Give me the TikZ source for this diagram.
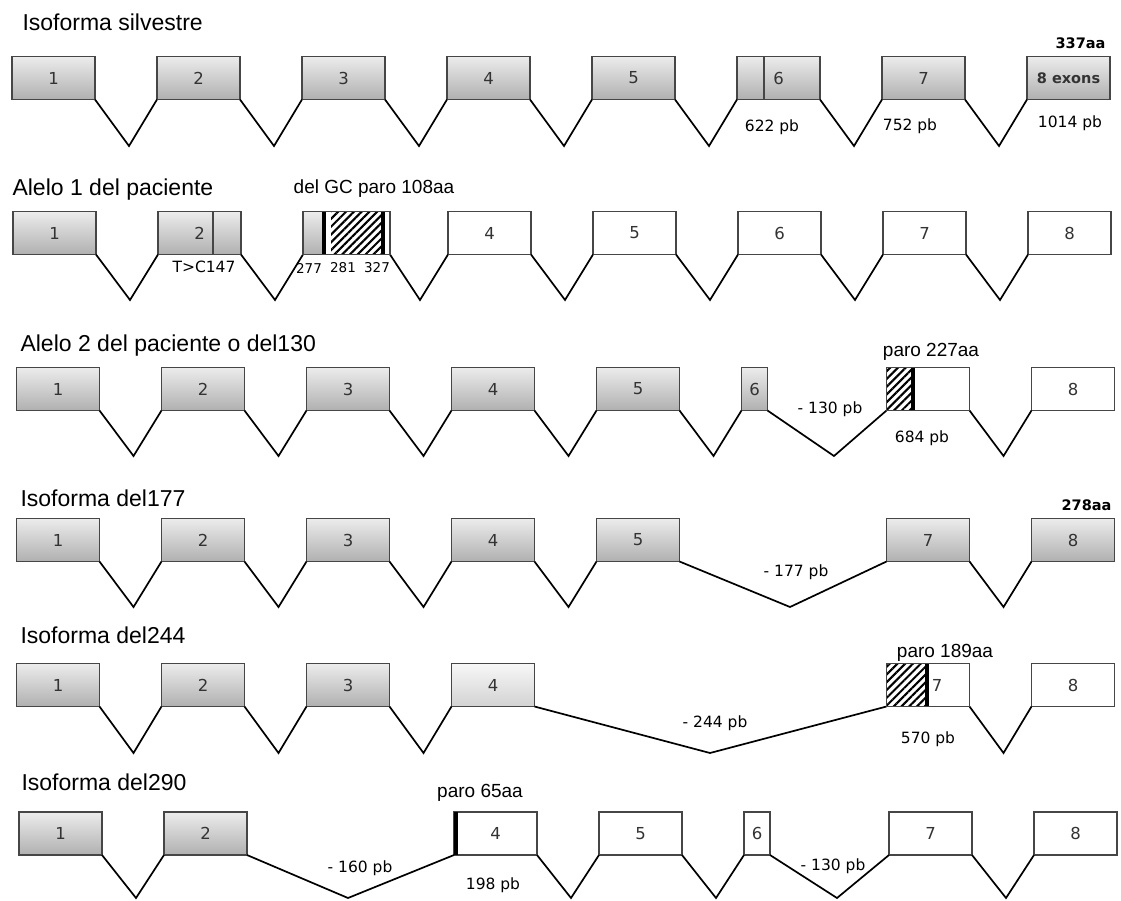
\documentclass[tikz,border=0pt]{standalone}
\usepackage{fontspec}
\setmainfont{Liberation Sans}
\newfontfamily\numfont{DejaVu Sans}
\usetikzlibrary{patterns.meta}
\definecolor{boxline}{RGB}{70,70,70}
\newcommand{\fsz}[1]{\fontsize{#1}{#1}\selectfont}

\begin{document}
\begin{tikzpicture}[x=1pt,y=-1pt,
  exbox/.style={draw=boxline,line width=1.4pt,minimum width=83pt,minimum height=43pt,
    inner sep=0pt,outer sep=0pt,font=\numfont\fsz{16.5},text=black!80},
  exon/.style={exbox,top color=gray!15,bottom color=gray!62},
  pale/.style={exbox,top color=gray!6,bottom color=gray!35},
  blank/.style={exbox,fill=white},
  narrow/.style={minimum width=26pt},
  intron/.style={line width=1.7pt},
  title/.style={anchor=west,font=\fsz{23}},
  note/.style={font=\fsz{19}},
  size/.style={font=\numfont\fsz{15.5}},
  cut/.style={font=\numfont\fsz{13.5}},
  aa/.style={anchor=east,font=\numfont\bfseries\fsz{14.5}},
  hatch/.style={pattern={Lines[angle=45,distance=5.5pt,line width=2.1pt]}},
  stopbar/.style={line width=3.5pt}]
  \useasboundingbox (0,0) rectangle (1121,900);
  % ---- wild type ----
  \node[title] (t1) at (19,22) {Isoforma silvestre};
  \foreach \i in {1,...,7}
    \node[exon] (r1e\i) at ({53.5+145*(\i-1)},78) {\i};
  \node[exon,font=\numfont\bfseries\fsz{14.5}] (r1e8) at (1068.5,78) {8 exons};
  \foreach \i in {1,...,7}
    \coordinate (r1v\i) at ({129+145*(\i-1)},146);
  \foreach \i [evaluate=\i as \j using int(\i+1)] in {1,...,7}
    \draw[intron] (r1e\i.south east) -- (r1v\i) -- (r1e\j.south west);
  \draw[boxline,line width=1.4pt] ([xshift=27pt]r1e6.north west) -- ([xshift=27pt]r1e6.south west);
  \node[aa] (wtaa) at (1109,43) {337aa};
  \node[size] (wt6) at (772,127) {622 pb};
  \node[size] (wt7) at (910,126) {752 pb};
  \node[size] (wt8) at (1070,123) {1014 pb};
  % ---- allele 1 ----
  \node[title] (t2) at (9,190) {Alelo 1 del paciente};
  \foreach \i in {1,2}
    \node[exon] (r2e\i) at ({54.5+145*(\i-1)},233) {\i};
  \node[blank,minimum width=87pt] (r2e3) at (346.5,233) {};
  \foreach \i in {4,...,8}
    \node[blank] (r2e\i) at ({54.5+145*(\i-1)},233) {\i};
  \foreach \i in {1,...,7}
    \coordinate (r2v\i) at ({130+145*(\i-1)},300);
  \foreach \i [evaluate=\i as \j using int(\i+1)] in {1,...,7}
    \draw[intron] (r2e\i.south east) -- (r2v\i) -- (r2e\j.south west);
  \draw[boxline,line width=1.4pt] ([xshift=55pt]r2e2.north west) -- ([xshift=55pt]r2e2.south west);
  \shade[top color=gray!15,bottom color=gray!62] (r2e3.north west) rectangle ([xshift=19pt]r2e3.south west);
  \fill[hatch] ([xshift=28pt]r2e3.north west) rectangle ([xshift=78pt]r2e3.south west);
  \draw[stopbar] ([xshift=21pt]r2e3.north west) -- ([xshift=21pt]r2e3.south west);
  \draw[stopbar] ([xshift=80pt]r2e3.north west) -- ([xshift=80pt]r2e3.south west);
  \draw[boxline,line width=1.4pt] (r2e3.north west) rectangle (r2e3.south east);
  \node[note] (gc) at (374,189) {del GC paro 108aa};
  \node[size] (snp) at (204,267) {T>C147};
  \node[cut] (p277) at (309,268) {277};
  \node[cut] (p281) at (343,268) {281};
  \node[cut] (p327) at (377,268) {327};
  % ---- allele 2 / del130 ----
  \node[title] (t3) at (17,346) {Alelo 2 del paciente o del130};
  \foreach \i in {1,...,5}
    \node[exon] (r3e\i) at ({58+145*(\i-1)},389) {\i};
  \node[exon,narrow] (r3e6) at (754.5,389) {6};
  \node[blank] (r3e7) at (928,389) {};
  \node[blank] (r3e8) at (1073,389) {8};
  \foreach \i in {1,...,5}
    \coordinate (r3v\i) at ({133.5+145*(\i-1)},456);
  \coordinate (r3v6) at (834,456);
  \coordinate (r3v7) at (1003.5,456);
  \foreach \i [evaluate=\i as \j using int(\i+1)] in {1,...,7}
    \draw[intron] (r3e\i.south east) -- (r3v\i) -- (r3e\j.south west);
  \fill[hatch] (r3e7.north west) rectangle ([xshift=26pt]r3e7.south west);
  \draw[stopbar] ([xshift=26.5pt]r3e7.north west) -- ([xshift=26.5pt]r3e7.south west);
  \draw[boxline,line width=1.4pt] (r3e7.north west) rectangle (r3e7.south east);
  \node[note] (stop3) at (931,352) {paro 227aa};
  \node[size] (d130) at (830,409) {- 130 pb};
  \node[size] (len3) at (922,438) {684 pb};
  % ---- del177 ----
  \node[title] (t4) at (17,498) {Isoforma del177};
  \foreach \i in {1,...,5}
    \node[exon] (r4e\i) at ({58+145*(\i-1)},540) {\i};
  \node[exon] (r4e7) at (928,540) {7};
  \node[exon] (r4e8) at (1073,540) {8};
  \foreach \i in {1,...,4}
    \coordinate (r4v\i) at ({133.5+145*(\i-1)},607);
  \coordinate (r4v5) at (790,607);
  \coordinate (r4v7) at (1003.5,607);
  \foreach \i [evaluate=\i as \j using int(\i+1)] in {1,...,4}
    \draw[intron] (r4e\i.south east) -- (r4v\i) -- (r4e\j.south west);
  \draw[intron] (r4e5.south east) -- (r4v5) -- (r4e7.south west);
  \draw[intron] (r4e7.south east) -- (r4v7) -- (r4e8.south west);
  \node[size] (d177) at (796,572) {- 177 pb};
  \node[aa] (aa177) at (1115,505) {278aa};
  % ---- del244 ----
  \node[title] (t5) at (17,635) {Isoforma del244};
  \foreach \i in {1,...,3}
    \node[exon] (r5e\i) at ({58+145*(\i-1)},685) {\i};
  \node[pale] (r5e4) at (493,685) {4};
  \node[blank] (r5e7) at (928,685) {};
  \node[blank] (r5e8) at (1073,685) {8};
  \foreach \i in {1,...,3}
    \coordinate (r5v\i) at ({133.5+145*(\i-1)},753);
  \coordinate (r5v4) at (710,753);
  \coordinate (r5v7) at (1003.5,753);
  \foreach \i [evaluate=\i as \j using int(\i+1)] in {1,...,3}
    \draw[intron] (r5e\i.south east) -- (r5v\i) -- (r5e\j.south west);
  \draw[intron] (r5e4.south east) -- (r5v4) -- (r5e7.south west);
  \draw[intron] (r5e7.south east) -- (r5v7) -- (r5e8.south west);
  \fill[hatch] (r5e7.north west) rectangle ([xshift=40pt]r5e7.south west);
  \draw[stopbar] ([xshift=40.5pt]r5e7.north west) -- ([xshift=40.5pt]r5e7.south west);
  \draw[boxline,line width=1.4pt] (r5e7.north west) rectangle (r5e7.south east);
  \node[font=\numfont\fsz{16.5},text=black!80] (n5e7) at (937,685) {7};
  \node[note] (stop5) at (945,653) {paro 189aa};
  \node[size] (d244) at (715,723) {- 244 pb};
  \node[size] (len5) at (928,739) {570 pb};
  % ---- del290 ----
  \node[title] (t6) at (18,782) {Isoforma del290};
  \foreach \i in {1,2}
    \node[exon] (r6e\i) at ({60.5+145*(\i-1)},833.5) {\i};
  \node[blank] (r6e4) at (495.5,833.5) {4};
  \node[blank] (r6e5) at (640.5,833.5) {5};
  \node[blank,narrow] (r6e6) at (757,833.5) {6};
  \node[blank] (r6e7) at (930.5,833.5) {7};
  \node[blank] (r6e8) at (1075.5,833.5) {8};
  \coordinate (r6v1) at (136,898);
  \coordinate (r6v2) at (348,898);
  \coordinate (r6v4) at (571,898);
  \coordinate (r6v5) at (716,898);
  \coordinate (r6v6) at (837,898);
  \coordinate (r6v7) at (1006,898);
  \draw[intron] (r6e1.south east) -- (r6v1) -- (r6e2.south west);
  \draw[intron] (r6e2.south east) -- (r6v2) -- (r6e4.south west);
  \foreach \i [evaluate=\i as \j using int(\i+1)] in {4,...,7}
    \draw[intron] (r6e\i.south east) -- (r6v\i) -- (r6e\j.south west);
  \draw[line width=4pt] ([xshift=1.5pt]r6e4.north west) -- ([xshift=1.5pt]r6e4.south west);
  \node[note] (stop6) at (480,793) {paro 65aa};
  \node[size] (d160) at (360,868) {- 160 pb};
  \node[size] (len6) at (493,885) {198 pb};
  \node[size] (d130b) at (833,866) {- 130 pb};
\end{tikzpicture}
\end{document}
